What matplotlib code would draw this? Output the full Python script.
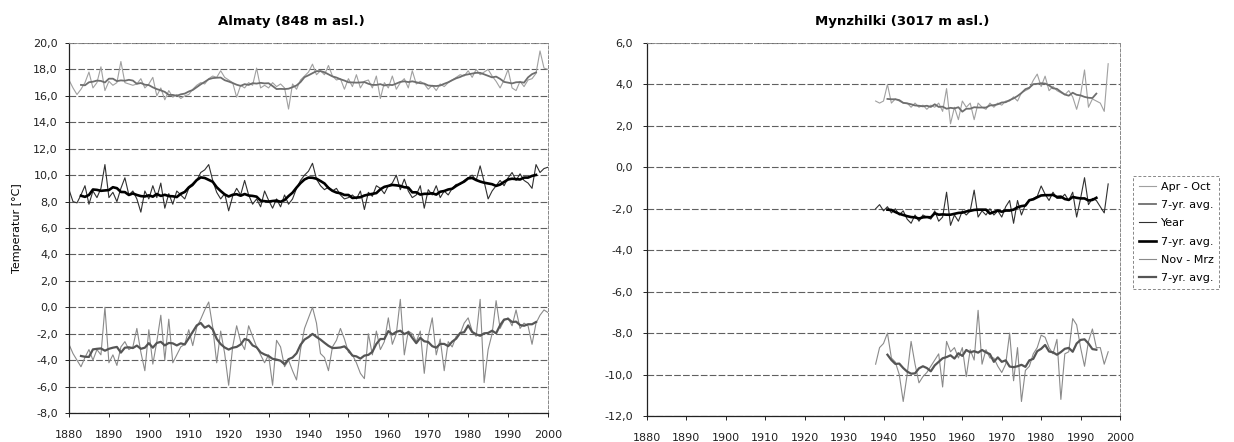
import numpy as np
import pandas as pd
import matplotlib
matplotlib.use("Agg")
import matplotlib.pyplot as plt
from matplotlib.ticker import FuncFormatter, MultipleLocator

plt.rcParams["font.family"] = ["DejaVu Sans"]

# Almaty (848 m asl.), 1880-2000
ALM_YEARS = list(range(1880, 2001))
ALM_SUMMER = [
    17.2, 16.6, 16.1, 16.5, 17.0, 17.8, 16.6, 17.0, 18.2, 16.4,
    17.1, 16.8, 17.0, 18.6, 17.0, 16.9, 16.8, 16.9, 17.3, 16.6,
    16.9, 17.4, 16.0, 16.6, 15.7, 16.4, 15.9, 16.1, 15.8, 16.0,
    16.1, 16.5, 16.8, 17.0, 16.9, 17.3, 17.5, 17.4, 17.9, 17.4,
    17.2, 17.0, 15.9, 16.8, 16.6, 17.0, 16.8, 18.1, 16.6, 16.8,
    16.6, 17.0, 16.7, 16.9, 16.6, 15.0, 16.9, 16.5, 17.2, 17.5,
    17.8, 18.4, 17.6, 17.9, 17.6, 18.3, 17.5, 17.2, 17.3, 16.5,
    17.3, 16.7, 17.6, 16.6, 17.1, 17.2, 16.6, 17.5, 15.8, 17.0,
    16.6, 17.5, 16.5, 17.0, 17.3, 16.6, 17.9, 16.9, 17.1, 16.9,
    16.5, 16.8, 16.4, 16.9, 16.7, 17.0, 17.2, 17.4, 17.6, 17.5,
    17.9, 17.4, 18.0, 17.6, 17.8, 18.0, 17.5, 17.1, 16.6, 17.2,
    18.0, 16.6, 16.4, 17.1, 16.7, 17.2, 17.3, 17.7, 19.4, 18.1,
    18.0,
]
ALM_YEAR = [
    8.9, 8.0, 7.9, 8.5, 9.2, 7.8, 8.8, 8.3, 9.0, 10.8,
    8.3, 8.7, 8.0, 9.0, 9.8, 8.5, 8.8, 8.2, 7.2, 8.8,
    8.2, 9.2, 8.3, 9.4, 7.5, 8.6, 7.8, 8.8, 8.5, 8.2,
    9.0, 9.2, 9.6, 10.2, 10.4, 10.8, 9.6, 8.7, 8.2, 8.6,
    7.3, 8.4, 9.0, 8.5, 9.6, 8.5, 7.8, 8.2, 7.6, 8.8,
    8.1, 7.5, 8.2, 7.6, 8.5, 7.8, 8.2, 9.0, 9.6, 10.0,
    10.3, 10.9, 9.7, 9.2, 8.9, 9.1, 8.8, 9.0, 8.5, 8.2,
    8.3, 8.5, 8.2, 8.8, 7.4, 8.7, 8.4, 9.2, 9.0, 8.6,
    9.2, 9.4, 10.0, 8.9, 9.7, 8.8, 8.3, 8.5, 9.2, 7.5,
    8.9, 8.5, 9.2, 8.3, 8.8, 8.5, 9.0, 9.3, 9.3, 9.6,
    9.8, 10.0, 9.6, 10.7, 9.5, 8.2, 8.8, 9.2, 9.6, 9.2,
    9.8, 10.2, 9.6, 10.1, 9.6, 9.4, 9.0, 10.8, 10.2, 10.5,
    10.6,
]
ALM_WINTER = [
    -2.8, -3.5, -4.0, -4.5, -3.8, -3.2, -4.0, -3.2, -3.6, 0.0,
    -4.2, -3.6, -4.4, -3.0, -2.6, -3.2, -3.0, -1.6, -3.4, -4.8,
    -1.7, -4.3, -2.6, -0.6, -4.0, -0.9, -4.2, -3.6, -3.0, -2.8,
    -1.7, -2.9, -1.5, -0.9, -0.2, 0.4, -1.5, -4.2, -1.8, -3.5,
    -5.9, -3.0, -1.4, -2.6, -3.2, -1.4, -2.2, -3.0, -3.6, -4.2,
    -3.6, -5.9, -2.5, -3.0, -4.5, -4.0, -4.8, -5.5, -3.2, -1.6,
    -0.8, 0.0, -1.2, -3.5, -3.8, -4.8, -3.0, -2.5, -1.6, -2.4,
    -3.4, -3.6, -4.2, -5.0, -5.4, -2.0, -3.6, -1.8, -3.2, -2.6,
    -0.8, -2.8, -2.0, 0.6, -3.6, -1.8, -2.0, -2.6, -1.8, -5.0,
    -2.2, -0.8, -3.6, -2.4, -4.8, -2.6, -3.0, -2.2, -2.0, -1.2,
    -0.8, -1.8, -2.2, 0.6, -5.7, -3.2, -2.0, 0.5, -1.6, -1.0,
    -0.8, -1.4, -0.2, -1.6, -1.2, -1.4, -2.8, -1.2, -0.6, -0.2,
    -0.4,
]

# Mynzhilki (3017 m asl.), 1938-1997
MYN_YEARS = list(range(1938, 1998))
MYN_SUMMER = [
    3.2, 3.1, 3.2, 4.0, 3.1, 3.3, 3.2, 3.1, 3.1, 2.9,
    3.1, 2.9, 3.0, 2.8, 3.0, 2.9, 3.1, 2.7, 3.8, 2.1,
    2.9, 2.3, 3.2, 2.9, 3.1, 2.3, 3.1, 2.9, 2.8, 3.1,
    2.9, 3.1, 3.0, 3.2, 3.2, 3.4, 3.2, 3.6, 3.7, 3.8,
    4.2, 4.5, 3.9, 4.4, 3.7, 3.9, 3.7, 3.6, 3.5, 3.7,
    3.4, 2.8, 3.5, 4.7, 2.9, 3.3, 3.2, 3.1, 2.7, 5.0,
]
MYN_YEAR = [
    -2.0, -1.8, -2.1, -1.9, -2.2, -2.0, -2.3, -2.1, -2.5, -2.7,
    -2.3, -2.6, -2.3, -2.4, -2.5, -2.1, -2.6, -2.4, -1.2, -2.8,
    -2.3, -2.6, -2.1, -2.3, -2.1, -1.1, -2.4, -2.1, -2.3, -2.0,
    -2.3, -2.1, -2.4, -1.9, -1.6, -2.7, -1.6, -2.3, -1.8, -1.6,
    -1.5, -1.4, -0.9, -1.3, -1.6, -1.2, -1.5, -1.5, -1.3, -1.6,
    -1.2, -2.4, -1.5, -0.5, -1.8, -1.5, -1.6, -1.9, -2.2, -0.8,
]
MYN_WINTER = [
    -9.5, -8.7, -8.5, -8.0, -9.2, -9.4, -10.0, -11.3, -10.0, -8.4,
    -9.5, -10.4, -10.1, -9.9, -9.6, -9.3, -9.0, -10.6, -8.4, -8.9,
    -8.7, -9.2, -8.7, -10.1, -8.8, -9.3, -6.9, -9.5, -8.8, -9.2,
    -9.2, -9.6, -9.9, -9.5, -8.0, -10.3, -8.7, -11.3, -9.8, -9.6,
    -9.0, -8.7, -8.1, -8.2, -8.7, -9.0, -8.3, -11.2, -9.0, -8.9,
    -7.3, -7.6, -8.7, -9.6, -8.4, -7.8, -8.7, -8.7, -9.5, -8.9,
]

LABELS = ["Apr - Oct", "7-yr. avg.", "Year", "7-yr. avg.", "Nov - Mrz", "7-yr. avg."]
# (raw style, 7-yr avg style)
STYLES = [
    (dict(color="#a0a0a0", lw=0.8), dict(color="#6e6e6e", lw=1.3)),
    (dict(color="#303030", lw=0.8), dict(color="#000000", lw=1.9)),
    (dict(color="#8a8a8a", lw=0.8), dict(color="#555555", lw=1.6)),
]

comma = FuncFormatter(lambda v, _: f"{v:.1f}".replace(".", ","))


def draw(ax, years, series, ylim, ypad):
    handles = []
    for vals, (raw_st, avg_st) in zip(series, STYLES):
        s = pd.Series(vals, index=years)
        h1, = ax.plot(s.index, s.values, **raw_st)
        avg = s.rolling(7, center=True).mean()
        h2, = ax.plot(avg.index, avg.values, **avg_st)
        handles += [h1, h2]
    ax.set_xlim(1880, 2000)
    ax.set_ylim(*ylim)
    ax.xaxis.set_major_locator(MultipleLocator(10))
    ax.yaxis.set_major_locator(MultipleLocator(2))
    ax.yaxis.set_major_formatter(comma)
    ax.grid(axis="y", color="#606060", lw=0.8, ls=(0, (6, 2)))
    ax.tick_params(labelsize=8, colors="#222222", length=3, width=0.7)
    ax.tick_params(axis="x", pad=9)
    ax.tick_params(axis="y", pad=ypad)
    for side in ("top", "right"):
        ax.spines[side].set_linestyle((0, (3, 2)))
        ax.spines[side].set_color("#888888")
        ax.spines[side].set_linewidth(0.7)
    for side in ("left", "bottom"):
        ax.spines[side].set_color("#222222")
        ax.spines[side].set_linewidth(0.9)
    return handles


fig = plt.figure(figsize=(12.34, 4.42), dpi=100)
ax1 = fig.add_axes([69 / 1234, 29 / 442, 479 / 1234, 370 / 442])
ax2 = fig.add_axes([647 / 1234, 26 / 442, 473 / 1234, 373 / 442])

draw(ax1, ALM_YEARS, [ALM_SUMMER, ALM_YEAR, ALM_WINTER], (-8, 20), ypad=5)
handles = draw(ax2, MYN_YEARS, [MYN_SUMMER, MYN_YEAR, MYN_WINTER], (-12, 6), ypad=7)

ax1.set_ylabel("Temperatur [°C]", fontsize=8, labelpad=8)
fig.text(291 / 1234, 1 - 22 / 442, "Almaty (848 m asl.)", ha="center", va="center",
         fontsize=9.5, fontweight="bold")
fig.text(902 / 1234, 1 - 22 / 442, "Mynzhilki (3017 m asl.)", ha="center", va="center",
         fontsize=9.5, fontweight="bold")

leg = fig.legend(handles, LABELS, loc="upper left", bbox_to_anchor=(1133 / 1234, 1 - 176 / 442),
                 fontsize=8, handlelength=1.6, handletextpad=0.4, labelspacing=0.75,
                 borderpad=0.5, borderaxespad=0, fancybox=False, framealpha=1)
leg.get_frame().set_edgecolor("#888888")
leg.get_frame().set_linestyle((0, (3, 2)))
leg.get_frame().set_linewidth(0.7)

fig.savefig("out.png", dpi=100)
